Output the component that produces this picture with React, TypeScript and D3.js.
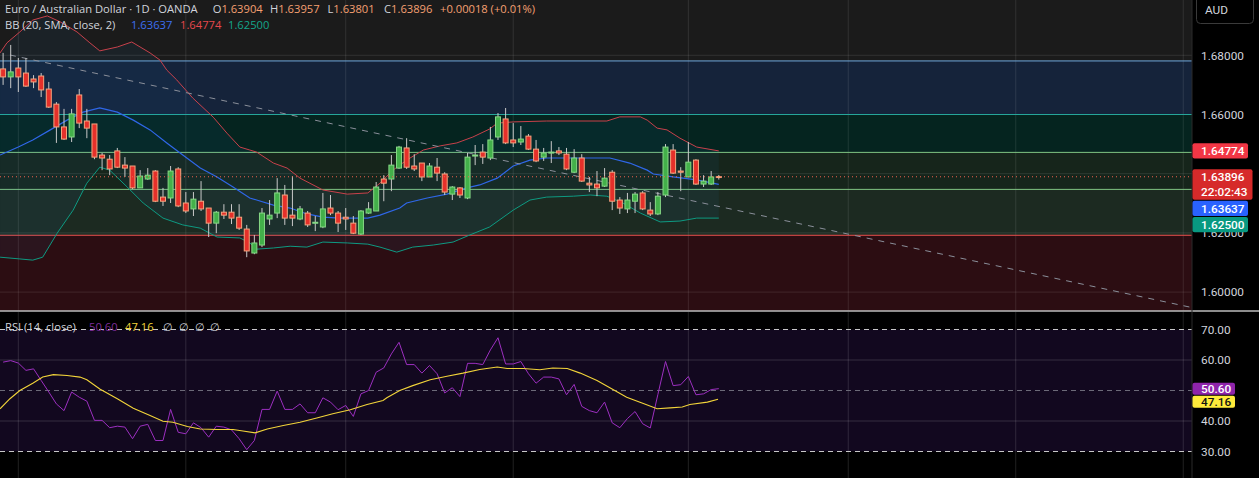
import { line, scaleLinear } from 'd3'

// daily EUR/AUD candles: open, high, low, close
const candles: [number, number, number, number][] = [
  [1.6754, 1.6808, 1.67, 1.6727], [1.6727, 1.6835, 1.6689, 1.6744], [1.6757, 1.6791, 1.6676, 1.6727],
  [1.674, 1.6791, 1.6693, 1.6696], [1.672, 1.6733, 1.6689, 1.671], [1.673, 1.674, 1.6659, 1.6683],
  [1.6686, 1.671, 1.6622, 1.6625], [1.6635, 1.6642, 1.6504, 1.6558], [1.6558, 1.6619, 1.6514, 1.6517],
  [1.6524, 1.6619, 1.6507, 1.6602], [1.6666, 1.6686, 1.6554, 1.6571], [1.6578, 1.6619, 1.652, 1.6554],
  [1.6568, 1.6568, 1.6449, 1.6456], [1.6463, 1.647, 1.6412, 1.6453], [1.6449, 1.6463, 1.6395, 1.6416],
  [1.6477, 1.6487, 1.6419, 1.6422], [1.6429, 1.6456, 1.6389, 1.6419], [1.6426, 1.6426, 1.6348, 1.6352],
  [1.6352, 1.6412, 1.6352, 1.6392], [1.6382, 1.6419, 1.6379, 1.6395], [1.6409, 1.6412, 1.6304, 1.6307],
  [1.6321, 1.6352, 1.6291, 1.6307], [1.6318, 1.6426, 1.6301, 1.6409], [1.6416, 1.6422, 1.6287, 1.6291],
  [1.6301, 1.6338, 1.6267, 1.6274], [1.6281, 1.6338, 1.6257, 1.6314], [1.6307, 1.6375, 1.6274, 1.6281],
  [1.6284, 1.6284, 1.6186, 1.6233], [1.6233, 1.6274, 1.6199, 1.627], [1.627, 1.6297, 1.6247, 1.626],
  [1.627, 1.6297, 1.623, 1.625], [1.6253, 1.6297, 1.621, 1.6216], [1.6213, 1.6227, 1.6118, 1.6139],
  [1.6132, 1.6193, 1.6128, 1.6166], [1.6159, 1.6284, 1.6152, 1.6267], [1.6247, 1.6311, 1.6227, 1.626],
  [1.6267, 1.6385, 1.625, 1.6335], [1.6328, 1.6362, 1.6227, 1.625], [1.626, 1.6392, 1.6223, 1.625],
  [1.6247, 1.6291, 1.6243, 1.6281], [1.6267, 1.6274, 1.622, 1.6227], [1.6233, 1.6257, 1.6206, 1.6236],
  [1.622, 1.6335, 1.6216, 1.6281], [1.6284, 1.6328, 1.626, 1.6267], [1.6267, 1.6274, 1.6203, 1.6233],
  [1.6253, 1.6284, 1.621, 1.6247], [1.6233, 1.6257, 1.6196, 1.6199], [1.6196, 1.6277, 1.6193, 1.6274],
  [1.6267, 1.6304, 1.6264, 1.6281], [1.6274, 1.6372, 1.6274, 1.6355], [1.6382, 1.6395, 1.6307, 1.6368],
  [1.6382, 1.6463, 1.6341, 1.6429], [1.6419, 1.6494, 1.6416, 1.649], [1.6487, 1.652, 1.6416, 1.6422],
  [1.6426, 1.6466, 1.6409, 1.6416], [1.6436, 1.6436, 1.6375, 1.6389], [1.6389, 1.6436, 1.6389, 1.6426],
  [1.6422, 1.6453, 1.6375, 1.6402], [1.6399, 1.6405, 1.6328, 1.6338], [1.6331, 1.6358, 1.6311, 1.6355],
  [1.6352, 1.6355, 1.6318, 1.6328], [1.6318, 1.647, 1.6314, 1.6456], [1.646, 1.6497, 1.6429, 1.6463],
  [1.6473, 1.65, 1.6433, 1.6456], [1.6453, 1.6558, 1.6446, 1.6514], [1.6524, 1.6605, 1.6514, 1.6592],
  [1.6585, 1.6622, 1.65, 1.6504], [1.6514, 1.6571, 1.649, 1.6504], [1.6507, 1.6561, 1.6497, 1.6517],
  [1.6527, 1.6534, 1.648, 1.6483], [1.6483, 1.6514, 1.6439, 1.6443], [1.6456, 1.6487, 1.6443, 1.647],
  [1.647, 1.651, 1.6436, 1.6473], [1.6477, 1.649, 1.6463, 1.647], [1.6466, 1.6487, 1.6412, 1.6416],
  [1.6405, 1.6483, 1.6402, 1.6453], [1.6453, 1.6466, 1.6372, 1.6375], [1.6368, 1.6389, 1.6338, 1.6362],
  [1.6365, 1.6409, 1.6324, 1.6352], [1.6358, 1.6419, 1.6355, 1.6385], [1.6405, 1.6412, 1.6277, 1.6307],
  [1.6311, 1.6321, 1.6264, 1.6284], [1.6281, 1.6335, 1.6267, 1.6311], [1.6307, 1.6338, 1.6267, 1.6331],
  [1.6335, 1.6341, 1.6277, 1.6281], [1.6277, 1.6304, 1.6257, 1.6264], [1.6264, 1.6338, 1.626, 1.6324],
  [1.6328, 1.65, 1.6321, 1.649], [1.648, 1.65, 1.6399, 1.6402], [1.6409, 1.6422, 1.6341, 1.6405],
  [1.6389, 1.6507, 1.6389, 1.6439], [1.6446, 1.6449, 1.6362, 1.6365], [1.6365, 1.6395, 1.6355, 1.6375],
  [1.6365, 1.6409, 1.6362, 1.6389], [1.63904, 1.63957, 1.63801, 1.63896],
]

// Bollinger bands: [bar index, price]
const bbUpper: [number, number][] = [
  [-0.4, 1.6808], [0.5, 1.6842], [2.2, 1.6879], [3.9, 1.6919], [5.8, 1.6933], [7.5, 1.6913], [9.7, 1.6879],
  [11.4, 1.6842], [12.7, 1.6815], [15, 1.6828], [16.9, 1.6845], [19.3, 1.6808], [20.6, 1.6784], [21.5, 1.675],
  [22.8, 1.6717], [24.9, 1.6656], [27.6, 1.6591], [29.4, 1.6537], [31.1, 1.649], [32.4, 1.648], [33.3, 1.6473],
  [35.5, 1.6436], [37.3, 1.6419], [39, 1.6385], [42, 1.6345], [45.2, 1.6331], [47.9, 1.6335], [49.5, 1.6368],
  [51.2, 1.6412], [53, 1.6446], [55.2, 1.648], [57.4, 1.6494], [59.6, 1.6504], [61.7, 1.6524], [63.9, 1.6551],
  [64.9, 1.6571], [67, 1.6575], [71.4, 1.6578], [79.3, 1.6578], [81, 1.6592], [83.7, 1.6592], [84.6, 1.6581],
  [85.9, 1.6554], [87.2, 1.6548], [88.9, 1.652], [91.1, 1.649], [94, 1.6477],
]
const bbBasis: [number, number][] = [
  [-0.4, 1.6463], [2, 1.649], [3.9, 1.6514], [6.2, 1.6548], [8.4, 1.6581], [10.5, 1.6608], [12.7, 1.6622],
  [15, 1.6608], [17.1, 1.6581], [19.3, 1.6548], [21.5, 1.6504], [23.6, 1.6463], [25.9, 1.6419], [28.1, 1.6389],
  [30.2, 1.6355], [32.4, 1.6318], [33.3, 1.6311], [35.5, 1.6294], [37.7, 1.6284], [39.9, 1.6264], [42, 1.6253],
  [44.2, 1.625], [47.9, 1.625], [49.5, 1.626], [52.1, 1.6284], [53, 1.6301], [55.7, 1.6318], [58.3, 1.6331],
  [60.9, 1.6352], [62.6, 1.6362], [64.9, 1.6385], [67, 1.6426], [69.2, 1.6446], [71.4, 1.6453], [75.8, 1.6453],
  [79.7, 1.6453], [82.3, 1.6436], [84.6, 1.6412], [85.4, 1.6399], [88, 1.6389], [91.1, 1.6379], [94, 1.6364],
]
const bbLower: [number, number][] = [
  [-0.4, 1.6118], [2.2, 1.6112], [3.9, 1.6108], [5.2, 1.6118], [7.1, 1.6199], [9.2, 1.6277], [11, 1.6368],
  [12.7, 1.6422], [14, 1.6412], [16.3, 1.6355], [18.4, 1.6301], [21, 1.625], [23.6, 1.6227], [25.9, 1.6216],
  [28.1, 1.6186], [31.1, 1.6183], [32.4, 1.6166], [33.3, 1.6145], [35.5, 1.6149], [37.7, 1.6155], [39.9, 1.6152],
  [42, 1.6169], [45.2, 1.6166], [47.9, 1.6162], [49.5, 1.6152], [51.7, 1.6135], [53.8, 1.6152], [56.5, 1.6159],
  [59.1, 1.6169], [61.3, 1.6193], [63.9, 1.622], [67, 1.6277], [69.2, 1.6311], [71.4, 1.6321], [74.9, 1.6324],
  [77.1, 1.6328], [79.3, 1.6324], [81.4, 1.6301], [83.7, 1.6267], [86.3, 1.6237], [88.9, 1.624], [91.1, 1.625],
  [94, 1.625],
]

// RSI(14) per bar, and its moving average
const rsi = [
  59.3, 59.8, 59.0, 56.6, 57.1, 53.3, 49.5, 45.6, 43.4, 49.5, 47.8, 46.5, 40.2, 40.2, 37.8, 38.3, 38.0, 34.2,
  38.3, 38.9, 33.6, 33.6, 43.8, 36.3, 35.8, 39.4, 37.8, 34.7, 38.3, 38.0, 37.1, 34.2, 30.6, 33.6, 43.8, 43.8,
  49.8, 43.8, 43.8, 45.6, 42.7, 42.7, 47.6, 46.2, 43.7, 45.1, 41.5, 48.9, 50.0, 56.0, 57.4, 62.0, 65.8, 58.5,
  58.5, 55.7, 58.2, 55.5, 49.2, 50.9, 48.0, 58.9, 58.9, 58.5, 63.3, 67.3, 58.7, 58.7, 59.5, 55.5, 52.4, 54.4,
  54.4, 53.8, 48.6, 52.0, 44.8, 43.4, 42.7, 46.2, 39.4, 37.8, 40.8, 43.1, 39.1, 37.7, 48.7, 59.5, 51.6, 51.9,
  54.6, 48.6, 48.9, 50.3, 50.6,
]
const rsiMa: [number, number][] = [
  [-0.4, 44.0], [0.9, 47.3], [2.2, 50.0], [3.9, 52.4], [5.2, 54.4], [6.6, 55.2], [8.4, 54.9], [10.1, 54.4],
  [11, 53.5], [12.7, 50.5], [15, 47.3], [17.1, 44.2], [19.3, 41.8], [21, 39.9], [22.3, 39.6], [24.2, 38.2],
  [25.9, 37.4], [28.1, 37.2], [30.2, 37.2], [31.5, 36.7], [33.1, 36.1], [34.7, 37.4], [36.8, 38.5], [39, 39.6],
  [41.2, 41.0], [43.3, 42.4], [45.6, 43.7], [47.8, 45.4], [49.9, 46.7], [50.4, 47.6], [52.1, 50.0], [53.8, 51.6],
  [56.1, 53.5], [58.3, 54.7], [60.4, 55.7], [62.6, 56.9], [64.9, 57.7], [66.2, 57.2], [68.3, 57.2], [70.5, 56.8],
  [72.2, 57.4], [74.1, 57.2], [75.8, 55.7], [78, 53.3], [80.1, 50.3], [81.9, 47.8], [84, 45.8], [85.9, 44.0],
  [87.6, 44.3], [89.2, 44.6], [90.2, 45.4], [92.5, 46.2], [93.9, 47.16],
]

const levels = [1.6781, 1.66, 1.6472, 1.6347, 1.6192]
const priceTicks = [1.6, 1.62, 1.64, 1.66, 1.68]
const rsiTicks = [20, 30, 40, 60, 70]
const monthStarts = [2, 24, 45, 67, 90, 111, 133, 155]
const trendAnchors: [number, number][] = [[0.9, 1.6801], [155.2, 1.5953]]

const W = 1259
const H = 478
const plotRight = 1192
const priceBottom = 311
const font = 'Roboto, "Noto Sans", sans-serif'
const legendFont = '"Open Sans", "Noto Sans", sans-serif'
const textColor = '#d1d4dc'

const zoneColors = ['#1b1b1b', '#15233a', '#05241f', '#16251b', '#1c2a21', '#2c0d12']
const levelColors = ['#6fa8dc', '#26a69a', '#81c784', '#81c784', '#ef5350']

const x = scaleLinear().domain([0, 94]).range([3.1, 718.8])
const yPrice = scaleLinear().domain([1.6, 1.68]).range([292.1, 55.3])
const yRsi = scaleLinear().domain([30, 70]).range([451.5, 329.5])

interface AxisLabel {
  y: number
  lines: string[]
  fill: string
  text: string
  width: number
}

const stack = (items: AxisLabel[], lineH: number) => {
  let bottom = -Infinity
  return items.map((d) => {
    let top = d.y - lineH / 2
    if (top < bottom + 1) top = bottom + 1
    bottom = top + lineH * d.lines.length
    return { ...d, top, h: lineH * d.lines.length }
  })
}

export default function App() {
  const pricePath = line<[number, number]>().x((d) => x(d[0])).y((d) => yPrice(d[1]))
  const rsiPath = line<[number, number]>().x((d) => x(d[0])).y((d) => yRsi(d[1]))

  const zoneBounds = [0, ...levels.map((l) => yPrice(l)), priceBottom]

  const bandPoly = [...bbUpper, ...[...bbLower].reverse()]

  const [t0, t1] = trendAnchors
  const iEdge = x.invert(plotRight)
  const pEdge = t0[1] + ((t1[1] - t0[1]) * (iEdge - t0[0])) / (t1[0] - t0[0])

  const last = candles[candles.length - 1]

  const priceLabels = stack(
    [
      { y: yPrice(1.64774), lines: ['1.64774'], fill: '#f23645', text: '#fff', width: 55.5 },
      { y: yPrice(last[3]), lines: ['1.63896', '22:02:43'], fill: '#d62a2a', text: '#fff', width: 60 },
      { y: yPrice(1.63637), lines: ['1.63637'], fill: '#2962ff', text: '#fff', width: 55.5 },
      { y: yPrice(1.625), lines: ['1.62500'], fill: '#089981', text: '#fff', width: 55.5 },
    ],
    15.3,
  )
  const rsiLabels = stack(
    [
      { y: yRsi(50.6), lines: ['50.60'], fill: '#8e24aa', text: '#fff', width: 42.5 },
      { y: yRsi(47.16), lines: ['47.16'], fill: '#ffeb3b', text: '#111', width: 42.5 },
    ],
    12,
  )

  return (
    <div style={{ position: 'absolute', left: 0, top: 0 }}>
      <svg width={W} height={H} viewBox={`0 0 ${W} ${H}`} style={{ display: 'block', fontFamily: font }}>
        <defs>
          <clipPath id="pricePane">
            <rect x={0} y={0} width={plotRight} height={priceBottom} />
          </clipPath>
          <clipPath id="rsiPane">
            <rect x={0} y={priceBottom + 1} width={plotRight} height={H - priceBottom} />
          </clipPath>
        </defs>

        <rect width={W} height={H} fill="#000" />

        {/* price pane */}
        <g clipPath="url(#pricePane)">
          {zoneColors.map((c, i) => (
            <rect
              key={c + i}
              x={0}
              y={zoneBounds[i]}
              width={plotRight}
              height={zoneBounds[i + 1] - zoneBounds[i]}
              fill={c}
            />
          ))}
          {priceTicks.map((t) => (
            <line key={t} x1={0} x2={plotRight} y1={yPrice(t)} y2={yPrice(t)} stroke="rgba(255,255,255,0.1)" />
          ))}
          {monthStarts.map((m) => (
            <line key={m} x1={x(m)} x2={x(m)} y1={0} y2={priceBottom} stroke="rgba(255,255,255,0.1)" />
          ))}
          {levels.map((l, i) => (
            <line key={l} x1={0} x2={plotRight} y1={yPrice(l)} y2={yPrice(l)} stroke={levelColors[i]} strokeWidth={1} />
          ))}

          <path d={pricePath(bandPoly) + 'Z'} fill="rgba(33,150,243,0.06)" />
          <path d={pricePath(bbUpper) ?? ''} fill="none" stroke="#c8414b" strokeWidth={1} />
          <path d={pricePath(bbBasis) ?? ''} fill="none" stroke="#2f67e8" strokeWidth={1.2} />
          <path d={pricePath(bbLower) ?? ''} fill="none" stroke="#0e9a82" strokeWidth={1} />

          <line
            x1={x(t0[0])}
            y1={yPrice(t0[1])}
            x2={plotRight}
            y2={yPrice(pEdge)}
            stroke="#8a8f9a"
            strokeWidth={1}
            strokeDasharray="6 6"
          />

          {candles.map(([o, h, l, c], i) => {
            const up = c >= o
            const cx = x(i)
            const top = yPrice(Math.max(o, c))
            const bot = yPrice(Math.min(o, c))
            return (
              <g key={i}>
                <line x1={cx} x2={cx} y1={yPrice(h)} y2={yPrice(l)} stroke="#c9c9c9" strokeWidth={1} />
                <rect
                  x={cx - 2.5}
                  y={top}
                  width={5}
                  height={Math.max(1, bot - top)}
                  fill={up ? '#43b04a' : '#e5302a'}
                  stroke={up ? '#86d886' : '#f5a57f'}
                  strokeWidth={1}
                />
              </g>
            )
          })}

          <line
            x1={0}
            x2={plotRight}
            y1={yPrice(last[3])}
            y2={yPrice(last[3])}
            stroke="#f0644f"
            strokeDasharray="1 3"
          />
        </g>

        {/* rsi pane */}
        <g clipPath="url(#rsiPane)">
          <rect x={0} y={yRsi(70)} width={plotRight} height={yRsi(30) - yRsi(70)} fill="#12081f" />
          {monthStarts.map((m) => (
            <line key={m} x1={x(m)} x2={x(m)} y1={priceBottom} y2={H} stroke="rgba(255,255,255,0.13)" />
          ))}
          {[60, 40].map((t) => (
            <line key={t} x1={0} x2={plotRight} y1={yRsi(t)} y2={yRsi(t)} stroke="rgba(255,255,255,0.15)" />
          ))}
          <line x1={0} x2={plotRight} y1={yRsi(50)} y2={yRsi(50)} stroke="#6c6a78" strokeDasharray="5 4" />
          {[70, 30].map((t) => (
            <line key={t} x1={0} x2={plotRight} y1={yRsi(t)} y2={yRsi(t)} stroke="#c8c8c8" strokeDasharray="5 4" />
          ))}
          <path
            d={rsiPath(rsi.map((v, i) => [i, v] as [number, number])) ?? ''}
            fill="none"
            stroke="#9c2fc0"
            strokeWidth={1}
          />
          <path d={rsiPath(rsiMa) ?? ''} fill="none" stroke="#f2d43a" strokeWidth={1.1} />
        </g>

        <line x1={0} x2={W} y1={priceBottom} y2={priceBottom} stroke="#bdbdbd" strokeWidth={1.5} />

        {/* legends */}
        <g fontFamily={legendFont} fontSize={11.2}>
          <text y={13} fill={textColor}>
            <tspan x={5}>Euro / Australian Dollar · 1D · OANDA</tspan>
            <tspan x={212.7}>O</tspan>
            <tspan fill="#f5a072">1.63904</tspan>
            <tspan x={270}>H</tspan>
            <tspan fill="#f5a072">1.63957</tspan>
            <tspan x={327.5}>L</tspan>
            <tspan fill="#f5a072">1.63801</tspan>
            <tspan x={384}>C</tspan>
            <tspan fill="#f5a072">1.63896</tspan>
            <tspan x={440} fill="#f5a072">+0.00018 (+0.01%)</tspan>
          </text>
          <text y={29} fill={textColor}>
            <tspan x={5}>BB (20, SMA, close, 2)</tspan>
            <tspan x={131} fill="#3d6ff0">1.63637</tspan>
            <tspan x={180} fill="#e5484d">1.64774</tspan>
            <tspan x={228} fill="#14a58b">1.62500</tspan>
          </text>
          <text y={330.5} fill={textColor}>
            <tspan x={5}>RSI (14, close)</tspan>
            <tspan x={89} fill="#7d2d99">50.60</tspan>
            <tspan x={125} fill="#f2d43a">47.16</tspan>
            <tspan x={163}>∅</tspan>
            <tspan x={179}>∅</tspan>
            <tspan x={195}>∅</tspan>
            <tspan x={210}>∅</tspan>
          </text>
        </g>

        {/* price axis */}
        <line x1={plotRight} x2={plotRight} y1={0} y2={H} stroke="#2a2a2a" />
        {priceTicks.map((t) => (
          <text key={t} x={1201} y={yPrice(t) + 4.2} fontSize={11.8} fill={textColor}>
            {t.toFixed(5)}
          </text>
        ))}
        {rsiTicks.map((t) => (
          <text key={t} x={1201} y={yRsi(t) + 4.2} fontSize={11.8} fill={textColor}>
            {t.toFixed(2)}
          </text>
        ))}
        {[...priceLabels, ...rsiLabels].map((d) => (
          <g key={d.lines[0]}>
            <rect x={plotRight + 0.5} y={d.top} width={d.width} height={d.h} rx={2} fill={d.fill} />
            {d.lines.map((s, k) => (
              <text
                key={s}
                x={1201}
                y={d.top + (d.h / d.lines.length) * (k + 0.5) + 4.2}
                fontSize={11.8}
                fill={d.text}
                fontWeight={500}
              >
                {s}
              </text>
            ))}
          </g>
        ))}

        <rect x={1196.5} y={-4} width={57} height={27.5} rx={4} fill="none" stroke="#3a3a3a" />
        <text x={1205} y={14} fontSize={11.8} fill={textColor}>
          AUD
        </text>
      </svg>
    </div>
  )
}
